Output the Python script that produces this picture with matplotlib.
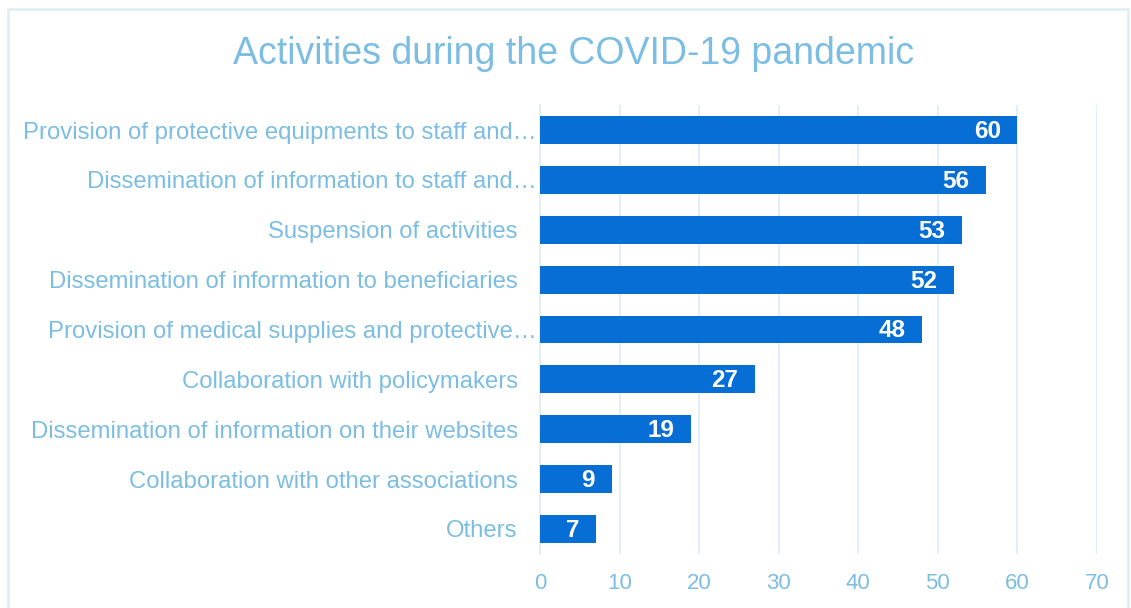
import matplotlib.pyplot as plt
from matplotlib.patches import Rectangle
from matplotlib.transforms import ScaledTranslation

activities = [
    "Provision of protective equipments to staff and\u2026",
    "Dissemination of information to staff and\u2026",
    "Suspension of activities",
    "Dissemination of information to beneficiaries",
    "Provision of medical supplies and protective\u2026",
    "Collaboration with policymakers",
    "Dissemination of information on their websites",
    "Collaboration with other associations",
    "Others",
]
counts = [60, 56, 53, 52, 48, 27, 19, 9, 7]
x_ticks = [0, 10, 20, 30, 40, 50, 60, 70]

bar_color = '#066ED4'
text_color = '#7BBDE3'
grid_color = '#DFEDF8'

plt.rcParams['font.family'] = ['Liberation Sans', 'DejaVu Sans']

fig = plt.figure(figsize=(11.31, 6.08), dpi=100)
ax = fig.add_axes([0.4775, 0.089, 0.4925, 0.738])

pos = list(range(len(activities)))
ax.barh(pos, counts, height=0.56, color=bar_color, zorder=3)

for y, v in zip(pos, counts):
    ax.annotate(str(v), xy=(v, y), xytext=(-12, -1), textcoords='offset points',
                ha='right', va='center', color='white', fontsize=17.5,
                fontweight='bold', zorder=4)

ax.set_xlim(0, 70)
ax.set_ylim(len(activities) - 0.5, -0.5)
ax.set_yticks(pos)
ax.set_yticklabels(activities)
ax.set_xticks(x_ticks)

ax.tick_params(axis='y', length=0, pad=16, labelsize=17.2, labelcolor=text_color)
ax.tick_params(axis='x', length=0, pad=14, labelsize=16, labelcolor=text_color)

# truncated labels run on up to the axis line
for lab in ax.get_yticklabels():
    if lab.get_text().endswith('\u2026'):
        lab.set_transform(lab.get_transform() + ScaledTranslation(0.19, 0, fig.dpi_scale_trans))

ax.grid(axis='x', color=grid_color, linewidth=1.3, zorder=0)
for side in ['top', 'right', 'bottom']:
    ax.spines[side].set_visible(False)
ax.spines['left'].set_color(grid_color)
ax.spines['left'].set_linewidth(1.3)

fig.text(0.5075, 0.911, 'Activities during the COVID-19 pandemic', ha='center', va='center',
         fontsize=27, color=text_color)

# light frame round the chart area
fig.patches.append(Rectangle((0.007, -0.02), 0.99, 1.005, transform=fig.transFigure,
                             fill=False, edgecolor='#DCEDF8', linewidth=1.8))

fig.savefig('out.png', dpi=100)
